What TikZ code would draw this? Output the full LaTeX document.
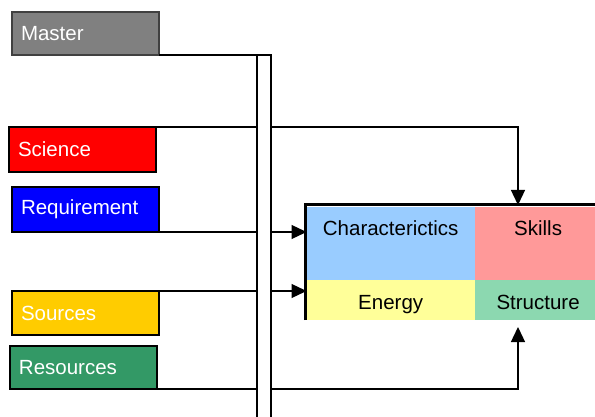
\documentclass[tikz,border=0pt]{standalone}
\usepackage{fontspec}
\setmainfont{Liberation Sans}
\usetikzlibrary{arrows.meta}

\definecolor{mastergray}{HTML}{808080}
\definecolor{sciencered}{HTML}{FF0000}
\definecolor{reqblue}{HTML}{0000FF}
\definecolor{srcyellow}{HTML}{FFCC00}
\definecolor{resgreen}{HTML}{339966}
\definecolor{charblue}{HTML}{99CCFF}
\definecolor{skillpink}{HTML}{FF9999}
\definecolor{energyyellow}{HTML}{FFFF99}
\definecolor{structgreen}{HTML}{8CD8B0}

\tikzset{
  inbox/.style={draw=black, line width=1.4pt, text=white, anchor=north west, outer sep=0pt,
    inner xsep=9pt, inner ysep=0pt, text width=129pt, align=left, minimum height=#1},
  cell/.style={anchor=north west, inner sep=0pt, text height=29pt, align=center},
  link/.style={line width=1.3pt},
  tip/.style={-{Triangle[length=15pt,width=14pt]}}
}

\begin{document}
\begin{tikzpicture}[x=1pt, y=-1pt, font=\fontsize{20.5}{24}\selectfont]
\useasboundingbox (0,0) rectangle (595,417);
\clip (0,0) rectangle (595,417);

% input boxes
\node[inbox=43pt, fill=mastergray, draw=black!75] (master) at (12,12) {Master};
\node[inbox=45pt, fill=sciencered] (science) at (9,127) {Science};
\node[inbox=45pt, fill=reqblue] (requirement) at (12,187) {Requirement};
\node[inbox=44pt, fill=srcyellow] (sources) at (12,291) {Sources};
\node[inbox=43pt, fill=resgreen] (resources) at (10,346) {Resources};

% result grid
\node[cell, fill=charblue, text width=168pt, text depth=44pt] (char) at (306.5,206.5) {Characterictics};
\node[cell, fill=skillpink, text width=126pt, text depth=44pt] (skills) at (char.north east) {Skills};
\node[cell, fill=energyyellow, text width=168pt, text depth=11pt] (energy) at (char.south west) {Energy};
\node[cell, fill=structgreen, text width=126pt, text depth=11pt] (structure) at (energy.north east) {Structure};
\draw[line width=3pt] (305,320) -- (305,205) -- (600,205);

\coordinate (skilltop) at (518,205);
\coordinate (structbot) at (518,327);

% connectors
\draw[link, tip] (science.north east) -| (skilltop);
\draw[link, tip] (requirement.south east) -- (requirement.south east -| char.west);
\draw[link, tip] (sources.north east) -- (sources.north east -| energy.west);
\draw[link, tip] (resources.south east) -| (structbot);

% bus bar
\node[draw, fill=white, line width=1.3pt, anchor=north west, inner sep=0pt, outer sep=0pt,
  minimum width=14pt, minimum height=380pt] (bus) at (257,55) {};
\draw[link] (master.south east) -- (master.south east -| bus.west);
\end{tikzpicture}
\end{document}
